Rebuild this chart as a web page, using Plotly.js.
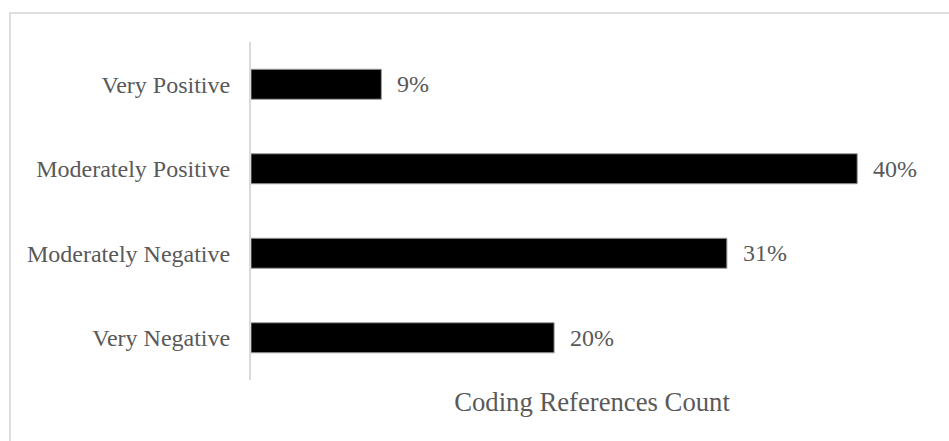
<!DOCTYPE html>
<html>
<head>
<meta charset="utf-8">
<script src="https://cdn.plot.ly/plotly-3.0.1.min.js"></script>
<style>
  html, body { margin: 0; padding: 0; background: #fff; }
  #wrap { position: relative; width: 949px; height: 441px; overflow: hidden; }
  #chart { position: absolute; left: 0; top: 0; width: 949px; height: 441px; }
  #frame { position: absolute; left: 9px; top: 12px; width: 960px; height: 460px;
           border-top: 2px solid #dedede; border-left: 2px solid #dedede; pointer-events: none; }
</style>
</head>
<body>
<div id="wrap">
  <div id="chart"></div>
  <div id="frame"></div>
</div>
<script>
const categories = ['Very Negative', 'Moderately Negative', 'Moderately Positive', 'Very Positive'];
const values = [20.0, 31.4, 40.0, 8.6];
const valueLabels = ['20%', '31%', '40%', '9%'];
const axisTitle = 'Coding References Count';

const fontFam = '"Liberation Serif", "Times New Roman", serif';
const textColor = '#595959';

const trace = {
  type: 'bar',
  orientation: 'h',
  y: categories,
  x: values,
  marker: { color: '#000000', line: { color: '#9a9a9a', width: 1 } },
  hoverinfo: 'none'
};

const annotations = categories.map((c, i) => ({
  x: values[i],
  y: c,
  xref: 'x',
  yref: 'y',
  text: valueLabels[i],
  showarrow: false,
  xanchor: 'left',
  yanchor: 'middle',
  xshift: 14,
  font: { family: fontFam, size: 24, color: textColor }
}));

const layout = {
  width: 949,
  height: 441,
  margin: { l: 251, r: 16, t: 42, b: 61 },
  paper_bgcolor: '#ffffff',
  plot_bgcolor: '#ffffff',
  showlegend: false,
  bargap: 0.645,
  font: { family: fontFam, size: 24, color: textColor },
  xaxis: {
    range: [0, 45],
    showticklabels: false,
    showgrid: false,
    zeroline: false,
    showline: false,
    ticks: '',
    fixedrange: true,
    title: { text: axisTitle, font: { family: fontFam, size: 26.7, color: textColor }, standoff: 12 }
  },
  yaxis: {
    type: 'category',
    categoryorder: 'array',
    categoryarray: categories,
    showgrid: false,
    zeroline: false,
    showline: true,
    linecolor: '#d9d9d9',
    linewidth: 2,
    ticks: '',
    ticklabelstandoff: 14,
    tickfont: { family: fontFam, size: 24, color: textColor },
    fixedrange: true
  },
  annotations: annotations
};

Plotly.newPlot('chart', [trace], layout, { displayModeBar: false, staticPlot: true });
</script>
</body>
</html>
